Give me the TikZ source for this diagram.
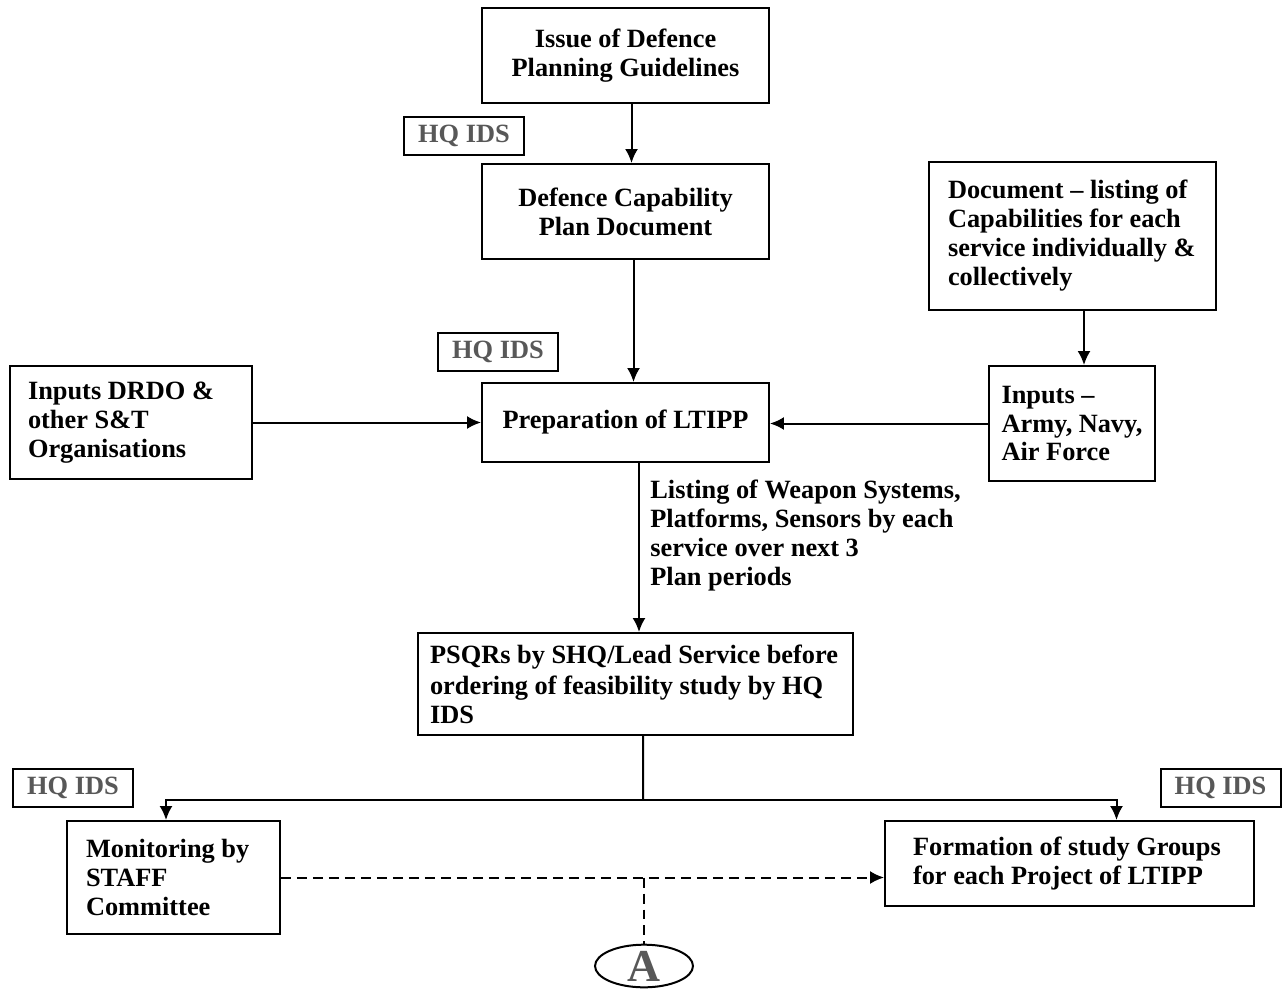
\documentclass[tikz,border=0pt]{standalone}
\usepackage{fontspec}
\setmainfont{Liberation Serif}
\usetikzlibrary{arrows.meta,shapes.geometric}
\definecolor{hqgray}{RGB}{88,88,88}

\begin{document}
\begin{tikzpicture}[x=0.02cm,y=-0.02cm,
  every node/.style={font=\fontsize{15}{16.5}\selectfont\bfseries},
  box/.style={draw,line width=0.04cm,fill=white,align=center,inner ysep=2pt},
  lbox/.style={box,align=flush left},
  hqbox/.style={draw,line width=0.04cm,text=hqgray,minimum width=2.4cm,minimum height=0.76cm,inner sep=0pt},
  arr/.style={line width=0.04cm,-{Latex[length=0.28cm,width=0.26cm]}},
  link/.style={line width=0.04cm}]
  \path[use as bounding box,fill=white] (0,0) rectangle (1285,990);

  \node[box,minimum width=5.74cm,minimum height=1.9cm] (issue) at (625.5,55.5) {Issue of Defence\\Planning Guidelines};
  \node[box,minimum width=5.74cm,minimum height=1.9cm] (dcp) at (625.5,211.5) {Defence Capability\\Plan Document};
  \node[box,minimum width=5.74cm,minimum height=1.58cm] (ltipp) at (625.5,422.5) {Preparation of LTIPP};
  \node[lbox,text width=4.12cm,inner xsep=0.36cm,minimum height=2.26cm] (drdo) at (131,422.5) {Inputs DRDO \&\\other S\&T\\Organisations};
  \node[lbox,text width=4.98cm,inner xsep=0.38cm,minimum height=2.96cm] (doc) at (1072.5,236) {Document – listing of\\Capabilities for each\\service individually \&\\collectively};
  \node[lbox,text width=2.82cm,inner xsep=0.25cm,minimum height=2.3cm] (svc) at (1072,423.5) {Inputs –\\Army, Navy,\\Air Force};
  \node[lbox,text width=8.22cm,inner xsep=0.24cm,minimum height=2.04cm] (psqr) at (635.5,684) {PSQRs by SHQ/Lead Service before\\[1pt]ordering of feasibility study by HQ\\IDS};
  \node[lbox,text width=3.5cm,inner xsep=0.38cm,minimum height=2.26cm] (mon) at (173.5,877.5) {Monitoring by\\STAFF\\Committee};
  \node[lbox,text width=6.26cm,inner xsep=0.56cm,minimum height=1.7cm] (form) at (1069.5,863.5) {Formation of study Groups\\for each Project of LTIPP};

  \node[hqbox] (hq1) at (464,136) {HQ IDS};
  \node[hqbox] (hq2) at (498,352) {HQ IDS};
  \node[hqbox] (hq3) at (73,788) {HQ IDS};
  \node[hqbox] (hq4) at (1220.5,788) {HQ IDS};

  \node[align=flush left,anchor=north west,inner sep=0pt] (list) at (650,480) {Listing of Weapon Systems,\\Platforms, Sensors by each\\service over next 3\\Plan periods};
  \node[draw,ellipse,line width=0.04cm,minimum width=1.96cm,minimum height=0.82cm,inner sep=0pt,text=hqgray,font=\fontsize{26}{26}\selectfont\bfseries] (circA) at (644,966) {A};

  \draw[arr] ([xshift=0.12cm]issue.south) -- ([xshift=0.12cm]dcp.north);
  \draw[arr] ([xshift=0.16cm]dcp.south) -- ([xshift=0.16cm]ltipp.north);
  \draw[arr] (drdo.east) -- (ltipp.west);
  \draw[arr] ([xshift=0.23cm]doc.south) -- ([xshift=0.23cm]doc.south |- svc.north);
  \draw[arr] (svc.west) -- (svc.west -| ltipp.east);
  \draw[arr] ([xshift=0.27cm]ltipp.south) -- ([xshift=0.27cm]ltipp.south |- psqr.north);
  \coordinate (split) at (643,800);
  \draw[link] ([xshift=0.15cm]psqr.south) -- (split);
  \draw[arr] (split) -| ([xshift=-0.15cm]mon.north);
  \draw[arr] (split) -| ([xshift=0.94cm]form.north);
  \draw[arr,dash pattern=on 0.2cm off 0.12cm] (mon.east) -- (mon.east -| form.west);
  \draw[link,dash pattern=on 0.2cm off 0.12cm] (mon.east -| circA.north) -- (circA.north);
\end{tikzpicture}
\end{document}
